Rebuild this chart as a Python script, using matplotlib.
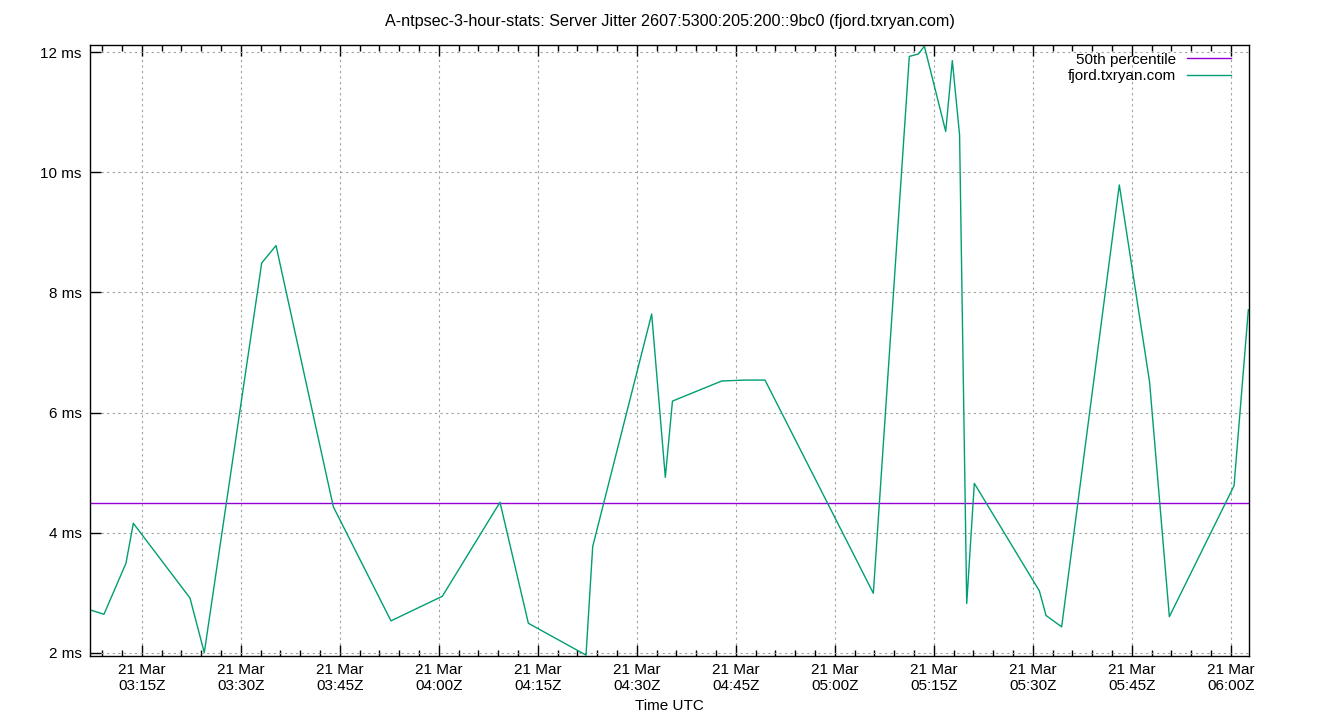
import datetime as dt
import matplotlib
matplotlib.use("Agg")
import matplotlib.pyplot as plt
import matplotlib.dates as mdates

# sample times (UTC, 21 Mar) and server jitter in ms
times = ["03:07:16", "03:09:17", "03:12:37", "03:13:44", "03:22:19", "03:24:29",
         "03:33:11", "03:35:21", "03:44:02", "03:52:46", "04:00:33", "04:09:17",
         "04:13:35", "04:22:19", "04:23:20", "04:32:16", "04:34:20", "04:35:25",
         "04:42:53", "04:46:25", "04:49:26", "05:05:51", "05:11:18", "05:12:40",
         "05:13:35", "05:16:49", "05:17:49", "05:18:55", "05:20:00", "05:21:09",
         "05:31:00", "05:32:01", "05:34:23", "05:43:07", "05:47:42", "05:50:42",
         "06:00:30", "06:02:40"]
jitter = [2.71, 2.64, 3.49, 4.155, 2.91, 2.0,
          8.49, 8.78, 4.43, 2.53, 2.94, 4.505,
          2.49, 1.96, 3.77, 7.64, 4.92, 6.19,
          6.525, 6.54, 6.54, 2.99, 11.93, 11.97,
          12.1, 10.68, 11.86, 10.62, 2.82, 4.82,
          3.03, 2.62, 2.43, 9.79, 6.51, 2.60,
          4.78, 7.71]
p50 = 4.5
yticks = [2, 4, 6, 8, 10, 12]

day = dt.date(2023, 3, 21)
def ts(s):
    return dt.datetime.combine(day, dt.time.fromisoformat(s))

x = [ts(s) for s in times]
x0, x1 = ts("03:07:10"), ts("06:02:46")

plt.rcParams['font.family'] = ['Liberation Sans', 'DejaVu Sans']
plt.rcParams['font.size'] = 11

fig = plt.figure(figsize=(13.4, 7.2), dpi=100)
ax = fig.add_axes([90/1340, 1-656/720, (1249-90)/1340, (656-45)/720])

ax.axhline(p50, color='#9400d3', lw=1, label='50th percentile')
ax.plot(x, jitter, color='#009e73', lw=1, label='fjord.txryan.com')

ax.set_xlim(x0, x1)
ax.set_ylim(1.945, 12.12)
ax.set_yticks(yticks)
ax.set_yticklabels([f"{v} ms" for v in yticks])

ax.xaxis.set_major_locator(mdates.MinuteLocator(byminute=[0, 15, 30, 45]))
ax.xaxis.set_minor_locator(mdates.MinuteLocator(byminute=range(0, 60, 3)))
ax.xaxis.set_major_formatter(mdates.DateFormatter('%d %b\n%H:%MZ'))

ax.tick_params(which='major', direction='in', length=8, width=1,
               top=True, right=False, color='black', pad=6)
ax.tick_params(which='minor', direction='in', length=4, width=1,
               top=True, right=False)
ax.tick_params(axis='x', which='major', pad=5)
ax.grid(True, which='major', color='#a0a0a0', ls=(0, (2, 3)), lw=0.8)
for s in ax.spines.values():
    s.set_linewidth(1)

ax.set_title('A-ntpsec-3-hour-stats: Server Jitter 2607:5300:205:200::9bc0 (fjord.txryan.com)',
             fontsize=11.6, pad=14)
ax.set_xlabel('Time UTC', labelpad=4)

ax.legend(loc='upper right', frameon=False, markerfirst=False, handlelength=2.9,
          borderaxespad=0.3, labelspacing=0.15, handletextpad=0.7,
          bbox_to_anchor=(1 - 7/1159, 1 + 3/611))

fig.savefig('out.png', dpi=100)
